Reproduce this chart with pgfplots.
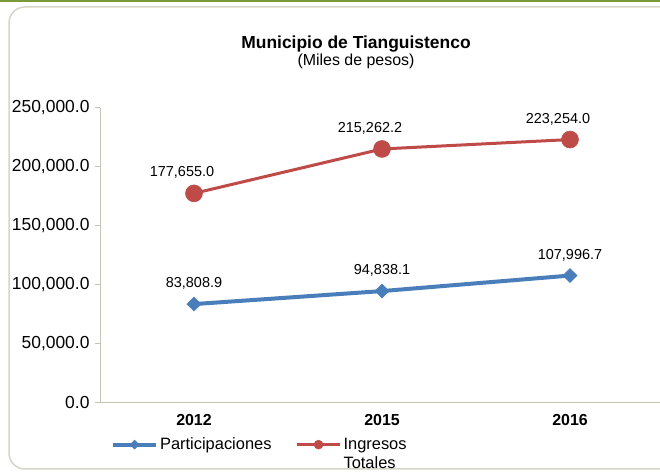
\documentclass[border=0pt]{standalone}
\usepackage{pgfplots}
\pgfplotsset{compat=1.18}
\usepackage{fontspec}
\setmainfont{Liberation Sans}
\definecolor{blueS}{HTML}{4A7EBB}
\definecolor{redS}{HTML}{BE4B48}
\definecolor{axgray}{HTML}{C4C4B4}
\definecolor{frameC}{HTML}{D6D6C8}
\definecolor{topgreen}{HTML}{7A9A3A}
\begin{document}
\begin{tikzpicture}[x=1bp,y=1bp]
\useasboundingbox (0,0) rectangle (660,472);
\clip (0,0) rectangle (660,472);
\fill[white] (0,0) rectangle (660,472);
\fill[topgreen] (0,469.5) rectangle (660,472);
\draw[frameC, line width=1.5bp, rounded corners=16bp] (9,3) rectangle (720,465);
\node[font=\fontsize{17.5}{20}\selectfont\bfseries] at (356,428) {Municipio de Tianguistenco};
\node[font=\fontsize{16}{18}\selectfont] at (356,411) {(Miles de pesos)};
\begin{axis}[
  at={(100bp,69bp)}, anchor=south west,
  scale only axis, width=564bp, height=295bp,
  xmin=-0.5, xmax=2.5, ymin=0, ymax=250000,
  axis x line*=bottom, axis y line*=left,
  axis line style={axgray, line width=1bp},
  ytick={0,50000,100000,150000,200000,250000},
  yticklabel style={font=\fontsize{17.5}{19}\selectfont, xshift=-2bp},
  /pgf/number format/assume math mode=true,
  /pgf/number format/.cd, fixed, fixed zerofill, precision=1, 1000 sep={,}, /pgfplots/.cd,
  scaled y ticks=false,
  ytick style={axgray, line width=1bp},
  tick align=outside, major tick length=5bp,
  xtick={0,1,2}, xticklabels={2012,2015,2016},
  xticklabel style={font=\fontsize{16}{18}\selectfont\bfseries, yshift=-3bp},
  x tick style={draw=none},
  extra x ticks={0.5,1.5}, extra x tick labels={},
  extra x tick style={tick style={axgray, line width=1bp, draw=axgray}, major tick length=6bp},
  clip=false,
  point meta=explicit symbolic,
  nodes near coords,
  every node near coord/.append style={font=\fontsize{14.5}{16}\selectfont, black, yshift=11bp},
  legend style={at={(0.014,-0.099)}, anchor=north west, draw=none, fill=none,
    font=\fontsize{16.5}{19}\selectfont, legend columns=2,
    /tikz/every even column/.append style={column sep=22bp},
    cells={anchor=base west}},
  legend image code/.code={
    \draw[#1] (0bp,5bp) -- (22bp,5bp) -- (43bp,5bp);
    \draw[#1, mark size=4.5bp, only marks] plot coordinates {(21.5bp,5bp)};
  },
]
\addplot[blueS, line width=4bp, mark=diamond*, mark size=7bp, mark options={line width=0.5bp, xscale=1.35}]
  coordinates {(0,83808.9) [83,808.9] (1,94838.1) [94,838.1] (2,107996.7) [107,996.7]};
\addlegendentry{Participaciones}
\addplot[redS, line width=3bp, mark=*, mark size=8.5bp, mark options={line width=0.5bp},
  every node near coord/.append style={xshift=-12bp}]
  coordinates {(0,177655.0) [177,655.0] (1,215262.2) [215,262.2] (2,223254.0) [223,254.0]};
\addlegendentry{\begin{tabular}[t]{@{}l@{}}Ingresos\\Totales\end{tabular}}
\end{axis}
\end{tikzpicture}
\end{document}
